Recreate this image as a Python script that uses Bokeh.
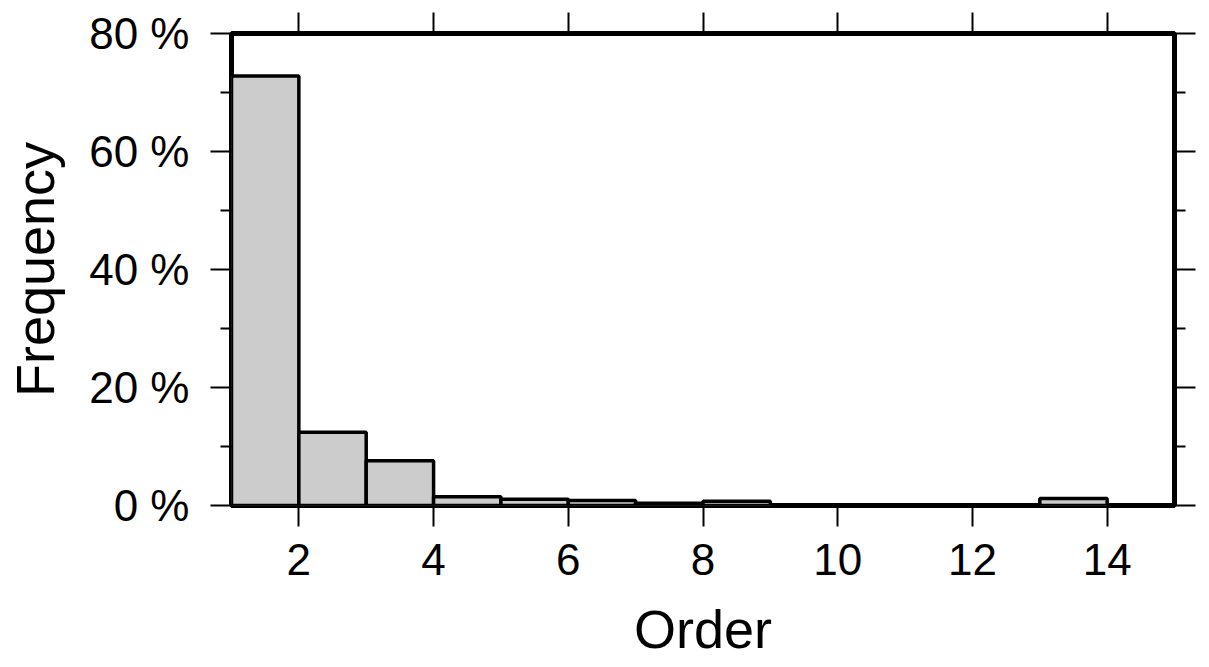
from bokeh.plotting import figure
from bokeh.models import Range1d, LinearAxis, FixedTicker, ColumnDataSource, CustomLabelingPolicy
from bokeh.embed import file_html
from bokeh.resources import INLINE

# ---- data ----
bin_left = [1, 2, 3, 4, 5, 6, 7, 8, 9, 10, 11, 12, 13, 14]
bin_right = [2, 3, 4, 5, 6, 7, 8, 9, 10, 11, 12, 13, 14, 15]
frequency = [72.8, 12.4, 7.6, 1.5, 1.05, 0.85, 0.4, 0.7, 0, 0, 0, 0, 1.2, 0]
x_ticks = [2, 4, 6, 8, 10, 12, 14]
y_ticks = [0, 20, 40, 60, 80]
y_minor_ticks = [10, 30, 50, 70]
y_tick_labels = ["0 %", "20 %", "40 %", "60 %", "80 %"]
x_label = "Order"
y_label = "Frequency"

FONT = "Liberation Sans"

p = figure(width=1209, height=667, output_backend="svg", toolbar_location=None,
           x_range=Range1d(1, 15), y_range=Range1d(0, 80),
           x_axis_location=None, y_axis_location=None,
           min_border_left=231, min_border_right=35, min_border_top=33, min_border_bottom=162)
p.grid.visible = False
p.outline_line_color = "black"
p.outline_line_width = 5
p.background_fill_color = "white"
p.border_fill_color = "white"

src = ColumnDataSource(dict(left=bin_left, right=bin_right, top=frequency,
                            bottom=[0] * len(frequency)))
p.quad(left="left", right="right", top="top", bottom="bottom", source=src,
       fill_color="#cccccc", line_color="black", line_width=3.5)

def style_axis(ax, labels=True):
    ax.axis_line_color = None
    ax.major_tick_line_color = "black"
    ax.major_tick_line_width = 2
    ax.minor_tick_line_color = "black"
    ax.minor_tick_line_width = 2
    ax.major_tick_in = 0
    ax.minor_tick_in = 0
    ax.major_tick_out = 21
    ax.minor_tick_out = 11
    ax.major_label_text_font = FONT
    ax.major_label_text_color = "black"
    ax.axis_label_text_font = FONT
    ax.axis_label_text_font_style = "normal"
    ax.axis_label_text_color = "black"
    if labels:
        ax.major_label_text_font_size = "44px"
        ax.axis_label_text_font_size = "54px"
    else:
        ax.major_label_text_font_size = "0px"
        ax.major_label_policy = CustomLabelingPolicy(code="return []")
        ax.major_label_standoff = 0

xt = FixedTicker(ticks=x_ticks, minor_ticks=[])
yt = FixedTicker(ticks=y_ticks, minor_ticks=y_minor_ticks)
yover = {t: s for t, s in zip(y_ticks, y_tick_labels)}

bx = LinearAxis(ticker=xt, axis_label=x_label)
style_axis(bx)
bx.major_label_standoff = 17
bx.axis_label_standoff = 21
p.add_layout(bx, "below")

tx = LinearAxis(ticker=xt)
style_axis(tx, labels=False)
p.add_layout(tx, "above")

ly = LinearAxis(ticker=yt, axis_label=y_label, major_label_overrides=yover)
style_axis(ly)
ly.major_label_standoff = 21
ly.axis_label_standoff = 21
p.add_layout(ly, "left")

ry = LinearAxis(ticker=yt)
style_axis(ry, labels=False)
p.add_layout(ry, "right")

open("out.html", "w").write(file_html(p, INLINE))
